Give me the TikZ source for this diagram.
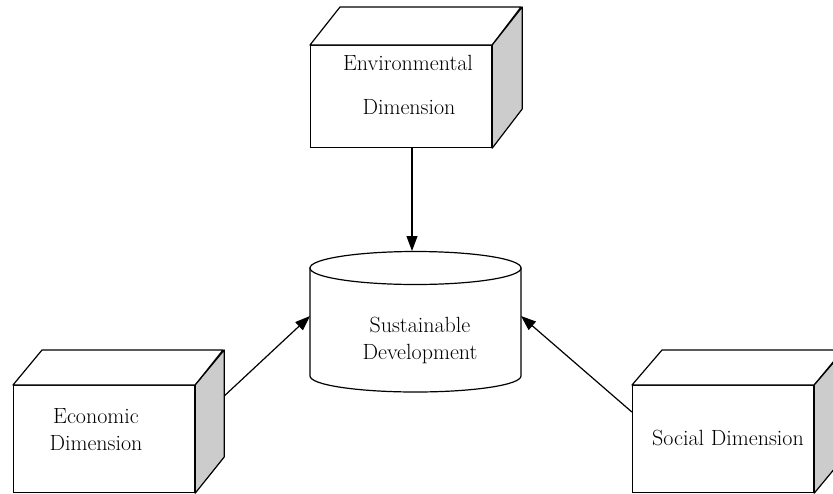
\documentclass[tikz,border=0pt]{standalone}
\usetikzlibrary{arrows.meta}
\begin{document}
\begin{tikzpicture}[x=1pt,y=-1pt,line width=1.2pt,
  lbl/.style={font=\fontsize{22}{27}\selectfont, align=center, inner sep=0pt},
  front/.style={draw, fill=white, inner sep=0pt, anchor=north west, minimum width=181pt, minimum height=102pt},
  topface/.style={draw, fill=white, line join=round},
  sideface/.style={draw, fill=gray!40, line join=round},
  arr/.style={-{Triangle[length=15pt,width=11pt]}}]
\useasboundingbox (0,0) rectangle (833,493);
\clip (0,0) rectangle (833,493);

% Environmental box
\node[front] (env) at (310,45) {};
\draw[topface] (env.north west) -- ++(30,-38) -- ++(181,0) -- (env.north east) -- cycle;
\draw[sideface] (env.north east) -- ++(30,-38) -- ++(0,102) -- (env.south east) -- cycle;
\node[lbl] (envt1) at (408,63) {Environmental};
\node[lbl] (envt2) at (409,107) {Dimension};

% Economic box
\node[front, minimum height=107pt] (eco) at (13,385) {};
\draw[topface] (eco.north west) -- ++(29,-35) -- ++(181,0) -- (eco.north east) -- cycle;
\draw[sideface] (eco.north east) -- ++(29,-35) -- ++(0,107) -- (eco.south east) -- cycle;
\node[lbl] (ecot) at (96,430) {Economic\\Dimension};

% Social box
\node[front, minimum height=107pt] (soc) at (632,385) {};
\draw[topface] (soc.north west) -- ++(30,-35) -- ++(181,0) -- (soc.north east) -- cycle;
\draw[sideface] (soc.north east) -- ++(30,-35) -- ++(0,107) -- (soc.south east) -- cycle;
\node[lbl] (soct) at (728,438) {Social Dimension};

% Cylinder
\node[minimum width=211pt, minimum height=140pt, inner sep=0pt] (cyl) at (415.5,322) {};
\draw[fill=white] (310,268) -- (310,376) arc[start angle=180, end angle=0, x radius=105.5, y radius=16] -- (521,268) -- cycle;
\draw[fill=white] (415.5,268) ellipse [x radius=105.5, y radius=16.5];
\node[lbl] (cylt) at (420,340) {Sustainable\\Development};

% Connectors
\coordinate (cyltop) at (412,251);
\coordinate (cylL) at (310,316);
\coordinate (cylR) at (521,316);
\coordinate (ecoout) at ([xshift=29pt,yshift=-11pt]eco.north east);
\draw[arr] (cyltop |- env.south) -- (cyltop);
\draw[arr] (ecoout) -- (cylL);
\draw[arr] ([yshift=27pt]soc.west) -- (cylR);
\end{tikzpicture}
\end{document}
